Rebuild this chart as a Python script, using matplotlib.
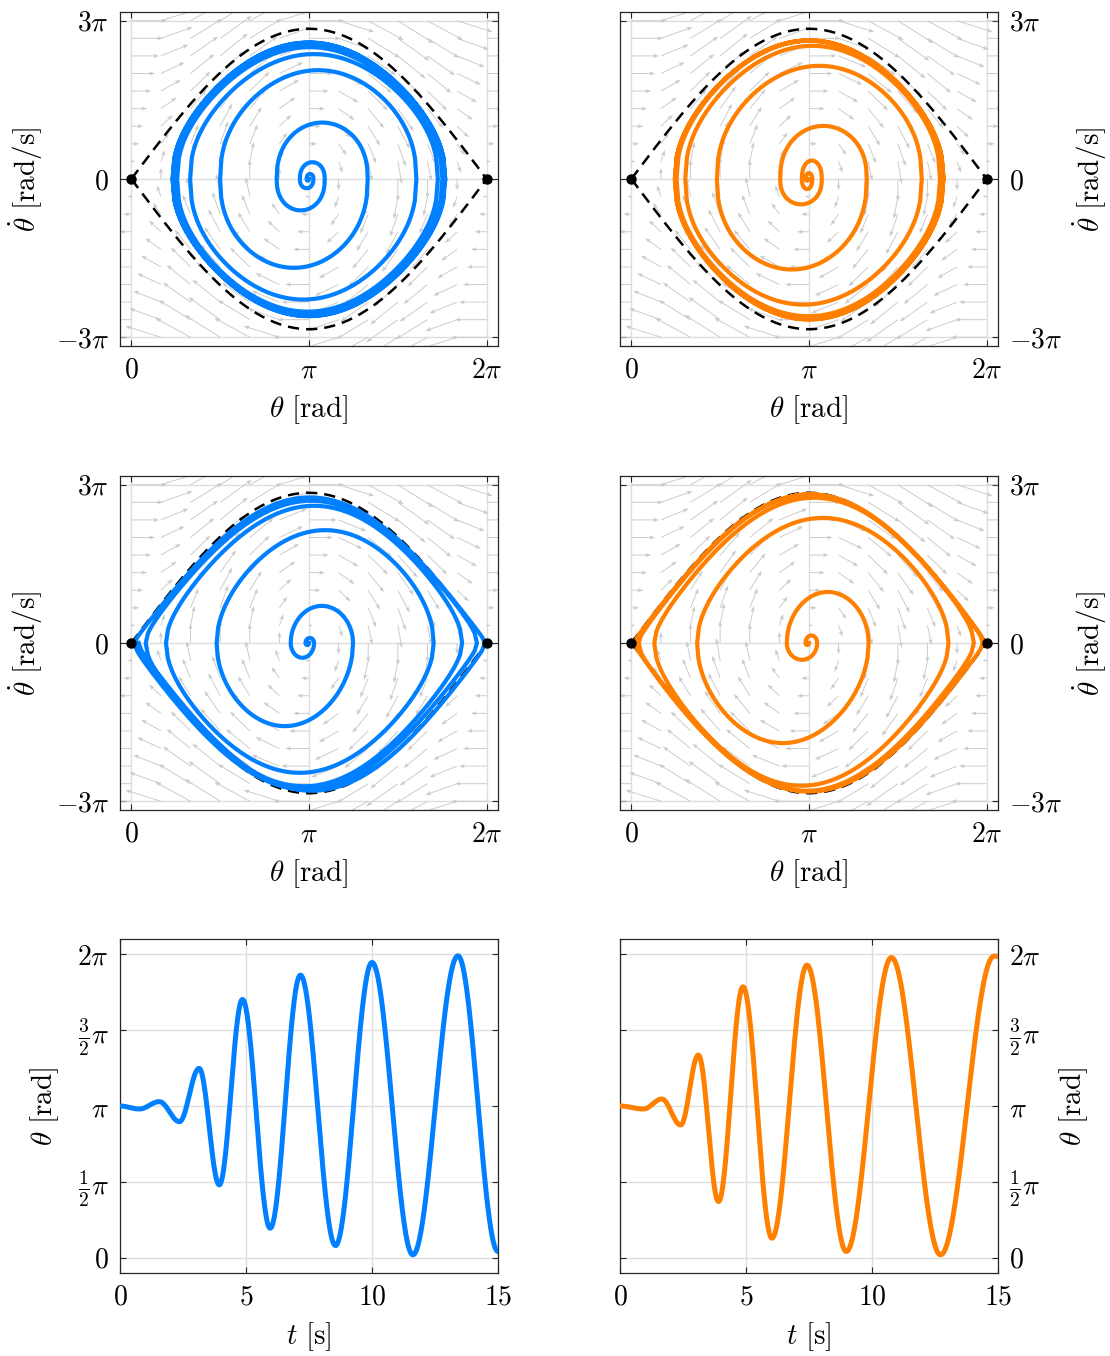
import numpy as np
import matplotlib.pyplot as plt

plt.rcParams['mathtext.fontset'] = 'cm'
plt.rcParams['font.family'] = 'serif'
plt.rcParams['font.serif'] = ['cmr10', 'DejaVu Serif']

BLUE = '#0080ff'
ORANGE = '#ff8000'
PI = np.pi

# pendulum parameter (g/l) used for the separatrix and the vector field
G_OVER_L = 20.0

# quiver grid
field_theta = np.linspace(0, 2 * PI, 13)
field_omega = np.linspace(-3 * PI, 3 * PI, 19)

# time series: extrema (also the row-2 swings)
t_ext_blue = [0, 0.77, 1.56, 2.36, 3.14, 3.94, 4.86, 5.96, 7.16, 8.55, 10.0, 11.62, 13.41, 15.0]
th_ext_blue = [PI, PI - 0.062, PI + 0.09, 2.818, 3.920, 1.509, 5.346, 0.613, 5.849, 0.255,
               6.111, 0.062, 6.249, 0.131]
t_ext_orange = [0, 0.93, 1.66, 2.41, 3.11, 3.91, 4.88, 6.03, 7.42, 8.98, 10.77, 12.72, 14.84, 15.0]
th_ext_orange = [PI, PI - 0.062, 3.286, 2.749, 4.196, 1.164, 5.608, 0.406, 6.056, 0.131,
                 6.214, 0.062, 6.242, 6.238]

# row 2 phase: peak angular velocity of every swing (between the extrema above)
om_pk_blue2 = [-0.12, 0.3, -0.88, 2.21, -4.95, 6.72, -7.73, 8.17, -8.53, 8.47, -8.73, 8.67, -8.8]
om_pk_orange2 = [-0.12, 0.45, -1.0, 3.04, -5.96, 7.45, -8.5, 8.65, -8.8, 8.85, -8.85, 8.85, -0.02]

# row 1 phase: swing extrema and peak velocities
th_ext_blue1 = [PI, 3.10, 3.22, 2.98, 3.42, 2.57, 4.18, 1.57, 5.04, 1.04, 5.42, 0.81, 5.50,
                0.76, 5.53, 0.74, 5.54, 0.73, 5.55, 0.73, 5.55]
om_pk_blue1 = [-0.1, 0.3, -0.55, 1.0, -1.87, 3.36, -5.29, 6.48, -7.18, 7.44, -7.9, 7.85,
               -8.05, 8.0, -8.12, 8.08, -8.15, 8.12, -8.17, 8.13]
th_ext_orange1 = [PI, 3.08, 3.20, 3.015, 3.368, 2.632, 4.163, 1.513, 5.135, 0.954, 5.458, 0.80,
                  5.51, 0.777, 5.517, 0.77, 5.52, 0.77, 5.52]
om_pk_orange1 = [-0.1, 0.35, -0.6, 1.1, -1.51, 3.16, -5.39, 6.74, -7.48, 7.93, -8.17, 8.23,
                 -8.3, 8.25, -8.35, 8.25, -8.37, 8.25]


def time_curve(t_ext, th_ext, n=80):
    ts, ths = [], []
    for t0, t1, a, b in zip(t_ext[:-1], t_ext[1:], th_ext[:-1], th_ext[1:]):
        s = np.linspace(0, 1, n)
        ts.append(t0 + (t1 - t0) * s)
        ths.append(a + (b - a) * (1 - np.cos(PI * s)) / 2)
    return np.concatenate(ts), np.concatenate(ths)


def phase_curve(th_ext, om_pk, k=1.0, n=150):
    xs, ys = [], []
    for a, b, vm in zip(th_ext[:-1], th_ext[1:], om_pk):
        A = abs(b - a) / 2
        u = np.linspace(-1, 1, n)
        th = (a + b) / 2 + u * (b - a) / 2
        if A > 1e-6:
            g = (np.cos(u * A) - np.cos(A)) / (1 - np.cos(A))
        else:
            g = 1 - u ** 2
        xs.append(th)
        ys.append(vm * np.clip(g, 0, None) ** (0.5 * k))
    return np.concatenate(xs), np.concatenate(ys)


def style_axes(ax, right=False):
    ax.tick_params(direction='in', length=4, width=0.8, top=True, right=True, left=True,
                   labelsize=20, pad=8, colors='#262626', labelcolor='black')
    if right:
        ax.tick_params(labelleft=False, labelright=True)
        ax.yaxis.set_label_position('right')
    for sp in ax.spines.values():
        sp.set_color('#262626')
        sp.set_linewidth(0.9)
    ax.grid(True, color='#dedede', linewidth=1.0)
    ax.set_axisbelow(True)


def phase_panel(ax, th_ext, om_pk, color, k, right):
    TH, OM = np.meshgrid(field_theta, field_omega)
    U = OM
    V = G_OVER_L * np.sin(TH)
    ax.quiver(TH, OM, U, V, angles='xy', scale_units='xy', scale=15, color='#cbcbcb',
              width=0.0025, headwidth=4.5, headlength=6, headaxislength=5, zorder=1)
    sep = np.linspace(0, 2 * PI, 400)
    for sgn in (1, -1):
        ax.plot(sep, sgn * 2 * np.sqrt(G_OVER_L) * np.sin(sep / 2), color='black', lw=1.8,
                dashes=(4.5, 2.8), zorder=3)
    x, y = phase_curve(th_ext, om_pk, k)
    ax.plot(x, y, color=color, lw=3.0, zorder=4, solid_joinstyle='round')
    ax.plot([0, 2 * PI], [0, 0], 'o', color='black', ms=6.5, zorder=5)
    ax.set_xlim(-0.2, 2 * PI + 0.2)
    ax.set_ylim(-3 * PI - 0.52, 3 * PI + 0.52)
    ax.set_xticks([0, PI, 2 * PI])
    ax.set_xticklabels([r'$0$', r'$\pi$', r'$2\pi$'])
    ax.set_yticks([-3 * PI, 0, 3 * PI])
    ax.set_yticklabels([r'$-3\pi$', r'$0$', r'$3\pi$'])
    ax.set_xlabel(r'$\theta\ [\mathrm{rad}]$', fontsize=21, labelpad=7)
    ax.set_ylabel(r'$\dot{\theta}\ [\mathrm{rad/s}]$', fontsize=21,
                  labelpad=6 if right else 8)
    style_axes(ax, right)


def time_panel(ax, t_ext, th_ext, color, right):
    t, th = time_curve(t_ext, th_ext)
    ax.plot(t, th, color=color, lw=3.6, zorder=4)
    ax.set_xlim(0, 15)
    ax.set_ylim(-0.1 * PI, 2.1 * PI)
    ax.set_xticks([0, 5, 10, 15])
    ax.set_xticklabels([r'$0$', r'$5$', r'$10$', r'$15$'])
    ax.set_yticks([0, PI / 2, PI, 1.5 * PI, 2 * PI])
    ax.set_yticklabels([r'$0$', r'$\frac{1}{2}\pi$', r'$\pi$', r'$\frac{3}{2}\pi$', r'$2\pi$'])
    ax.set_xlabel(r'$t\ [\mathrm{s}]$', fontsize=21, labelpad=7)
    ax.set_ylabel(r'$\theta\ [\mathrm{rad}]$', fontsize=21, labelpad=12)
    style_axes(ax, right)


fig = plt.figure(figsize=(11.1, 13.56), dpi=100)
W, H = 378 / 1110, 334 / 1356
L1, L2 = 120 / 1110, 620 / 1110
B1, B2, B3 = 1010 / 1356, 546 / 1356, 83 / 1356

ax = fig.add_axes([L1, B1, W, H])
phase_panel(ax, th_ext_blue1, om_pk_blue1, BLUE, 0.85, False)
ax = fig.add_axes([L2, B1, W, H])
phase_panel(ax, th_ext_orange1, om_pk_orange1, ORANGE, 0.85, True)
ax = fig.add_axes([L1, B2, W, H])
phase_panel(ax, th_ext_blue, om_pk_blue2, BLUE, 1.0, False)
ax = fig.add_axes([L2, B2, W, H])
phase_panel(ax, th_ext_orange, om_pk_orange2, ORANGE, 1.0, True)
ax = fig.add_axes([L1, B3, W, H])
time_panel(ax, t_ext_blue, th_ext_blue, BLUE, False)
ax = fig.add_axes([L2, B3, W, H])
time_panel(ax, t_ext_orange, th_ext_orange, ORANGE, True)

fig.savefig('out.png', dpi=100)
